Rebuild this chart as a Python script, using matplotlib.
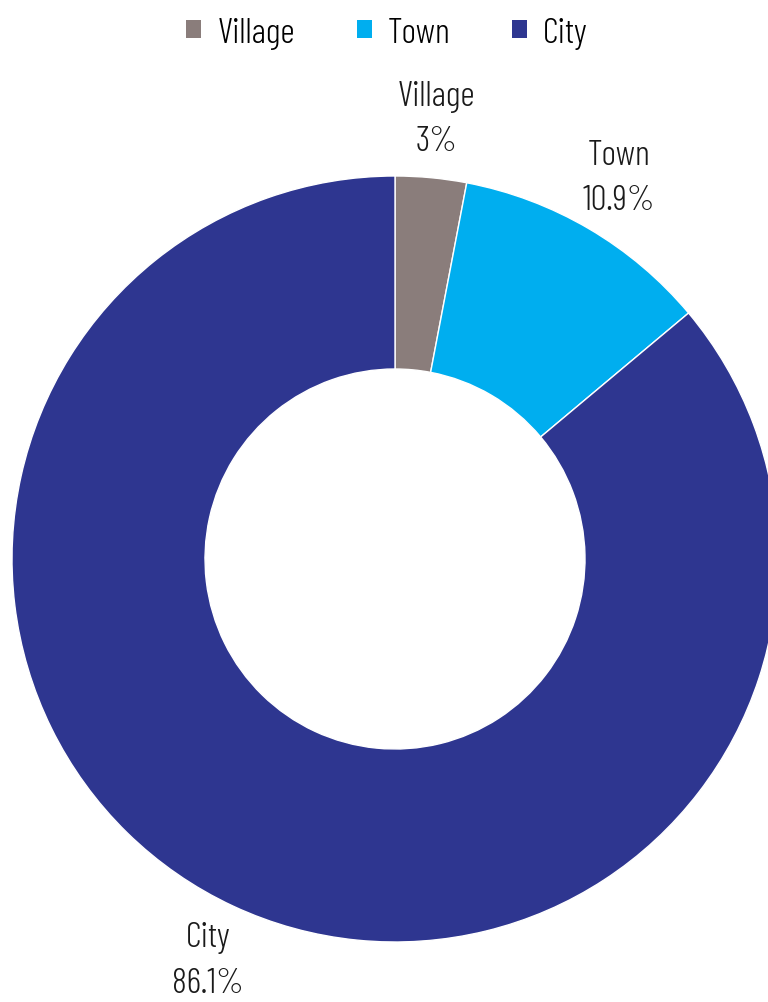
import matplotlib
matplotlib.use("Agg")
import matplotlib.pyplot as plt
from matplotlib.patches import Patch

categories = ["Village", "Town", "City"]
values = [3.0, 10.9, 86.1]
value_labels = ["3%", "10.9%", "86.1%"]
colors = ["#8a7d7b", "#00aeef", "#2e3690"]

plt.rcParams['font.family'] = ['Barlow Condensed', 'DejaVu Sans']
plt.rcParams['font.weight'] = 300

W, H = 768, 1003
fig = plt.figure(figsize=(W / 100, H / 100), dpi=100)
ax = fig.add_axes([0, 0, 1, 1])

labels = [f"{c}\n{v}" for c, v in zip(categories, value_labels)]
wedges, texts = ax.pie(values, colors=colors, labels=labels, startangle=90,
                       counterclock=False, center=(395, H - 560), radius=383,
                       labeldistance=1.155,
                       wedgeprops=dict(width=383 - 190, edgecolor='white', linewidth=1),
                       textprops=dict(fontsize=25.5, color='#1a1a1a', linespacing=1.55,
                                      fontweight=300))
for t in texts:
    t.set_ha('center')
    t.set_va('center')

ax.set_xlim(0, W)
ax.set_ylim(0, H)
ax.set_aspect('auto')
ax.axis('off')

handles = [Patch(facecolor=c, edgecolor='none') for c in colors]
fig.legend(handles, categories, loc='upper center', bbox_to_anchor=(0.504, 1.014),
           ncol=3, frameon=False, prop=dict(size=25.5, weight=300),
           handlelength=0.42, handleheight=0.42,
           handletextpad=0.45, columnspacing=1.75)

fig.savefig("out.png", dpi=100)
